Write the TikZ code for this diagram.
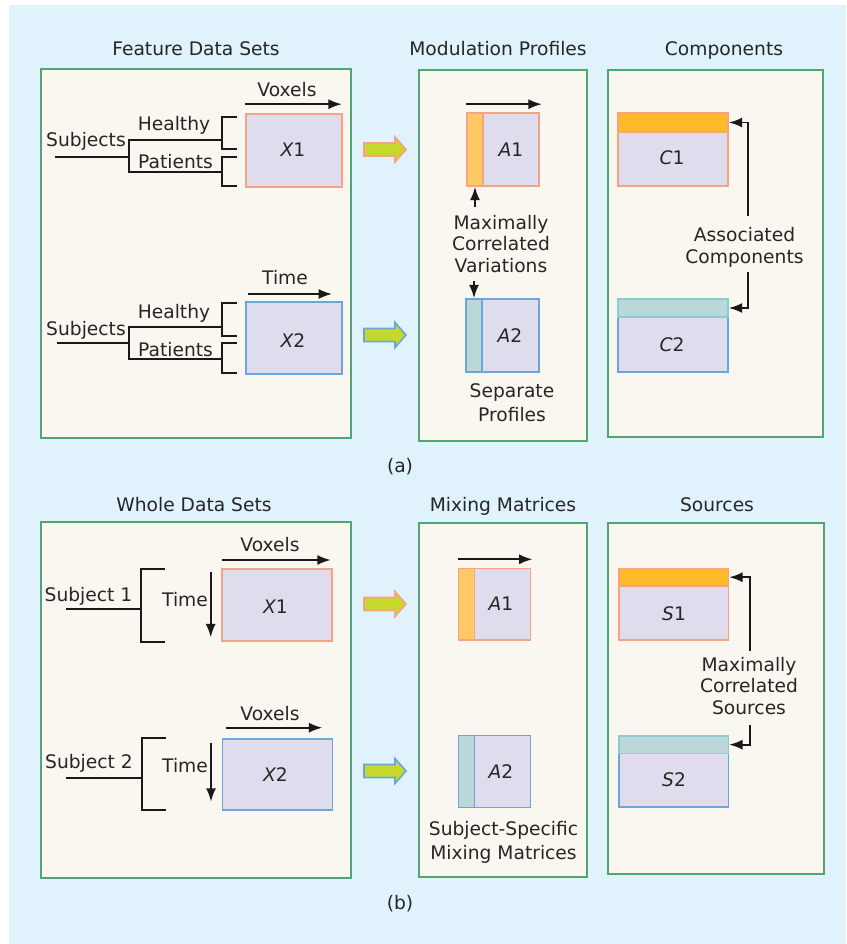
\documentclass[tikz,border=0pt]{standalone}
\usepackage{fontspec}
\setmainfont{DejaVu Sans}
\usetikzlibrary{arrows.meta}
\definecolor{bgblue}{HTML}{E0F2FC}
\definecolor{pgreen}{HTML}{4EA672}
\definecolor{pcream}{HTML}{FAF7F0}
\definecolor{lav}{HTML}{DFDCEE}
\definecolor{orb}{HTML}{F5A285}
\definecolor{blb}{HTML}{6AA6DB}
\definecolor{orstrip}{HTML}{FFC966}
\definecolor{orhead}{HTML}{FDB92A}
\definecolor{tealfill}{HTML}{BCD7D7}
\definecolor{tealb}{HTML}{88CDD3}
\definecolor{garrfill}{HTML}{C6D82C}
\definecolor{tgray}{HTML}{262626}
\begin{document}
\begin{tikzpicture}[x=0.75pt, y=-0.75pt, font=\fontsize{14}{16}\selectfont, text=tgray,
    >={Latex[length=10pt,width=7.5pt]},
    panel/.style={draw=pgreen, fill=pcream, line width=1.3pt},
    mat/.style={fill=lav, line width=1.2pt, inner sep=0pt},
    part/.style={line width=1.2pt, inner sep=0pt, anchor=north west},
    lab/.style={anchor=base, inner sep=0pt},
    txt/.style={align=center, inner sep=0pt},
    arr/.style={->, line width=1.4pt, draw=black!90},
    ln/.style={line width=1.4pt, draw=black!90},
    garr/.style={fill=garrfill, line width=1.2pt}]
  % background
  \fill[white] (0,0) rectangle (846,944);
  \fill[bgblue] (9,5) rectangle (846,944);
  \useasboundingbox (0,0) rectangle (846,944);

  % panels
  \draw[panel] (41,69) rectangle (351,438);
  \draw[panel] (419,70) rectangle (587,441);
  \draw[panel] (608,70) rectangle (823,437);
  \draw[panel] (41,522) rectangle (351,878);
  \draw[panel] (419,523) rectangle (587,877);
  \draw[panel] (608,523) rectangle (824,874);

  % titles
  \node[lab] (tfeat) at (196,56) {Feature Data Sets};
  \node[lab] (tmod) at (498,56) {Modulation Profiles};
  \node[lab] (tcomp) at (724,56) {Components};
  \node[lab] (twhole) at (194,511) {Whole Data Sets};
  \node[lab] (tmix) at (503,511) {Mixing Matrices};
  \node[lab] (tsrc) at (717,511) {Sources};
  \node (capa) at (400,467) {(a)};
  \node (capb) at (400,904) {(b)};

  % (a) feature data sets
  \node[mat, draw=orb, minimum width=72pt, minimum height=54.75pt] (xa1) at (294,150.5) {};
  \node[lab] (xa1l) at (293,157) {{\itshape X}1};
  \node[lab] (voxa) at (287,97) {Voxels};
  \draw[arr] ([yshift=6.75pt]xa1.north west) -- ([xshift=-0.75pt,yshift=6.75pt]xa1.north east);
  \draw[ln] (237,117) -- (222,117) -- (222,149) -- (237,149);
  \draw[ln] (237,157) -- (222,157) -- (222,186) -- (237,186);
  \draw[ln] (222,140) -- (129,140) -- (129,172) -- (222,172);
  \draw[ln] (55,157) -- (129,157);
  \node[lab] (subja1) at (86,147) {Subjects};
  \node[lab] (heala1) at (174,131) {Healthy};
  \node[lab] (patia1) at (175.5,169) {Patients};

  \node[mat, draw=blb, minimum width=72pt, minimum height=54pt] (xa2) at (294,338) {};
  \node[lab] (xa2l) at (293,347) {{\itshape X}2};
  \node[lab] (timea) at (285,285) {Time};
  \draw[arr] (248,294) -- (332,294);
  \draw[ln] (237,303) -- (222,303) -- (222,336) -- (237,336);
  \draw[ln] (237,343) -- (222,343) -- (222,373) -- (237,373);
  \draw[ln] (222,327) -- (129,327) -- (129,359) -- (222,359);
  \draw[ln] (57,343) -- (129,343);
  \node[lab] (subja2) at (86,335) {Subjects};
  \node[lab] (heala2) at (174,319) {Healthy};
  \node[lab] (patia2) at (175.5,356) {Patients};

  % green arrows
  \foreach \gy/\gc in {149.5/orb,335/blb,604/orb,771/blb}
    \draw[garr, draw=\gc] (364,\gy-6.5) -- (395,\gy-6.5) -- (395,\gy-12.5) -- (406,\gy)
      -- (395,\gy+12.5) -- (395,\gy+6.5) -- (364,\gy+6.5) -- cycle;

  % (a) modulation profiles
  \node[mat, draw=orb, minimum width=54pt, minimum height=54.75pt] (aa1) at (503,149.5) {};
  \node[part, fill=orstrip, draw=orb, minimum width=12pt, minimum height=54.75pt] (aa1s) at (aa1.north west) {};
  \node[lab] (aa1l) at (511,157) {{\itshape A}1};
  \draw[arr] ([yshift=6pt]aa1.north west) -- ([xshift=1.5pt,yshift=6pt]aa1.north east);
  \node[mat, draw=blb, minimum width=54.75pt, minimum height=54.75pt] (aa2) at (502.5,335.5) {};
  \node[part, fill=tealfill, draw=blb, minimum width=12pt, minimum height=54.75pt] (aa2s) at (aa2.north west) {};
  \node[lab] (aa2l) at (510,343) {{\itshape A}2};
  \node[txt, inner ysep=6pt] (mcv) at (501,244) {Maximally\\Correlated\\Variations};
  \draw[arr] (aa1s.south |- mcv.north) -- (aa1s.south);
  \draw[arr] (aa2s.north |- mcv.south) -- (aa2s.north);
  \node[txt] (sepp) at (512,403) {Separate\\[2pt]Profiles};

  % (a) components
  \node[mat, draw=orb, minimum width=82.5pt, minimum height=54.75pt] (ca1) at (673,149.5) {};
  \node[part, fill=orhead, draw=orb, minimum width=82.5pt, minimum height=14.25pt] (ca1h) at (ca1.north west) {};
  \node[lab] (ca1l) at (672,165) {{\itshape C}1};
  \node[mat, draw=blb, minimum width=82.5pt, minimum height=54.75pt] (ca2) at (673,335.5) {};
  \node[part, fill=tealfill, draw=tealb, minimum width=82.5pt, minimum height=13.5pt] (ca2h) at (ca2.north west) {};
  \node[lab] (ca2l) at (672,351.7) {{\itshape C}2};
  \node[txt] (assoc) at (744.5,247.3) {Associated\\Components};
  \draw[arr] ([xshift=2.6pt,yshift=8.25pt]assoc.north) |- (ca1h.east);
  \draw[arr] ([xshift=2.6pt,yshift=-3.75pt]assoc.south) |- (ca2h.east);

  % (b) whole data sets
  \node[mat, draw=orb, minimum width=82.5pt, minimum height=54pt] (xb1) at (277,605) {};
  \node[lab] (xb1l) at (275.5,613.3) {{\itshape X}1};
  \node[lab] (voxb1) at (270,551.7) {Voxels};
  \draw[arr] (222.3,560) -- (330.7,560);
  \node[lab] (timeb1) at (185,606) {Time};
  \draw[arr] (210.7,571.7) -- (210.7,637.3);
  \draw[ln] (165,569) -- (140.7,569) -- (140.7,641.7) -- (165,641.7);
  \draw[ln] (66,609) -- (140.7,609);
  \node[lab] (subjb1) at (88.5,601.7) {Subject 1};

  \node[mat, draw=blb, minimum width=82.5pt, minimum height=53.25pt] (xb2) at (277.3,774.2) {};
  \node[lab] (xb2l) at (275.5,781.7) {{\itshape X}2};
  \node[lab] (voxb2) at (270,720) {Voxels};
  \draw[arr] (225.7,727.7) -- (322.3,727.7);
  \node[lab] (timeb2) at (185,772.7) {Time};
  \draw[arr] (211,742.7) -- (211,801.7);
  \draw[ln] (166,738.3) -- (141.7,738.3) -- (141.7,810) -- (166,810);
  \draw[ln] (66,778.3) -- (141.7,778.3);
  \node[lab] (subjb2) at (89,768.3) {Subject 2};

  % (b) mixing matrices
  \node[mat, draw=orb, minimum width=54.25pt, minimum height=53.75pt] (ab1) at (494.5,604.2) {};
  \node[part, fill=orstrip, draw=orb, minimum width=12pt, minimum height=53.75pt] (ab1s) at (ab1.north west) {};
  \node[lab] (ab1l) at (501,610.7) {{\itshape A}1};
  \draw[arr] ([yshift=6.2pt]ab1.north west) -- ([xshift=0.75pt,yshift=6.2pt]ab1.north east);
  \node[mat, draw=blb, minimum width=54.25pt, minimum height=53.75pt] (ab2) at (494.5,771.5) {};
  \node[part, fill=tealfill, draw=blb, minimum width=12pt, minimum height=53.75pt] (ab2s) at (ab2.north west) {};
  \node[lab] (ab2l) at (501,778.3) {{\itshape A}2};
  \node[txt] (ssmm) at (503.5,842.5) {Subject-Specific\\[2.5pt]Mixing Matrices};

  % (b) sources
  \node[mat, draw=orb, minimum width=82pt, minimum height=53.75pt] (sb1) at (673.7,604.2) {};
  \node[part, fill=orhead, draw=orb, minimum width=82pt, minimum height=13.25pt] (sb1h) at (sb1.north west) {};
  \node[lab] (sb1l) at (674,620) {{\itshape S}1};
  \node[mat, draw=blb, minimum width=82pt, minimum height=53.5pt] (sb2) at (673.7,771.5) {};
  \node[part, fill=tealfill, draw=tealb, minimum width=82pt, minimum height=13.25pt] (sb2h) at (sb2.north west) {};
  \node[lab] (sb2l) at (674,786.7) {{\itshape S}2};
  \node[txt] (mcs) at (749,685.7) {Maximally\\Correlated\\Sources};
  \draw[arr] ([xshift=0.5pt,yshift=4.7pt]mcs.north) |- (sb1h.east);
  \draw[arr] ([xshift=0.5pt,yshift=-8pt]mcs.south) |- (sb2h.east);
\end{tikzpicture}
\end{document}
